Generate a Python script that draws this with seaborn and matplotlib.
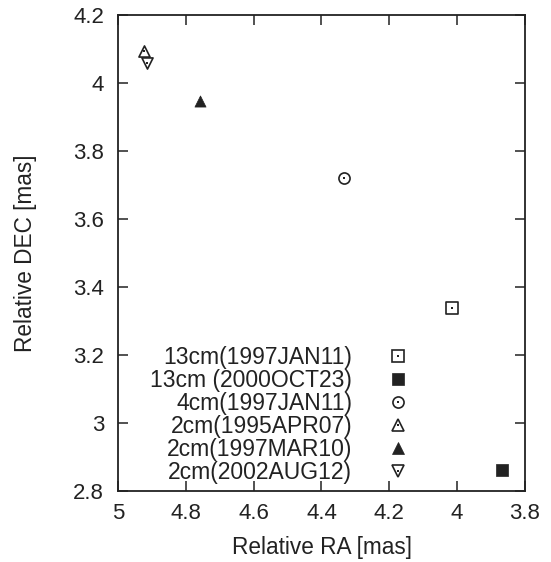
import matplotlib
matplotlib.use("Agg")
import matplotlib.pyplot as plt
from matplotlib.lines import Line2D
from matplotlib.legend_handler import HandlerTuple
import seaborn as sns
import pandas as pd

# ---- data ----
labels = ["13cm(1997JAN11)", "13cm (2000OCT23)", "4cm(1997JAN11)",
          "2cm(1995APR07)", "2cm(1997MAR10)", "2cm(2002AUG12)"]
ra = [4.016, 3.868, 4.335, 4.923, 4.757, 4.915]
dec = [3.337, 2.861, 3.721, 4.094, 3.947, 4.059]
markers = ["s", "s", "o", "^", "^", "v"]
filled = [False, True, False, False, True, False]

xticks = [5, 4.8, 4.6, 4.4, 4.2, 4, 3.8]
xticklabels = ["5", "4.8", "4.6", "4.4", "4.2", "4", "3.8"]
yticks = [2.8, 3, 3.2, 3.4, 3.6, 3.8, 4, 4.2]
yticklabels = ["2.8", "3", "3.2", "3.4", "3.6", "3.8", "4", "4.2"]

df = pd.DataFrame({"label": labels, "ra": ra, "dec": dec})

sns.set_style("ticks")
plt.rcParams["font.family"] = ["Liberation Sans", "DejaVu Sans"]
ink = "#222222"
plt.rcParams["text.color"] = ink
plt.rcParams["axes.labelcolor"] = ink
plt.rcParams["xtick.color"] = ink
plt.rcParams["ytick.color"] = ink

fig = plt.figure(figsize=(5.51, 5.62), dpi=100)
ax = fig.add_axes([118/551, 1 - 491/562, (525-118)/551, (491-15)/562])

msize = 8.0
handles = []
for i, row in df.iterrows():
    m = markers[i]
    if filled[i]:
        sns.scatterplot(x=[row.ra], y=[row.dec], marker=m, s=msize**2,
                        color=ink, edgecolor=ink, linewidth=0.5, ax=ax, zorder=3)
        h = Line2D([], [], linestyle="none", marker=m, markersize=msize,
                   markerfacecolor=ink, markeredgecolor=ink, markeredgewidth=0.5)
    else:
        sns.scatterplot(x=[row.ra], y=[row.dec], marker=m, s=msize**2,
                        facecolor="white", edgecolor=ink, linewidth=1.2, ax=ax, zorder=3)
        sns.scatterplot(x=[row.ra], y=[row.dec], marker="s", s=1.6**2,
                        color=ink, edgecolor=ink, linewidth=0, ax=ax, zorder=4)
        h1 = Line2D([], [], linestyle="none", marker=m, markersize=msize,
                    markerfacecolor="white", markeredgecolor=ink, markeredgewidth=1.2)
        h2 = Line2D([], [], linestyle="none", marker="s", markersize=1.6,
                    markerfacecolor=ink, markeredgecolor=ink, markeredgewidth=0)
        h = (h1, h2)
    handles.append(h)

ax.set_xlim(5, 3.8)
ax.set_ylim(2.8, 4.2)
ax.set_xticks(xticks)
ax.set_xticklabels(xticklabels)
ax.set_yticks(yticks)
ax.set_yticklabels(yticklabels)

fs = 16
ax.tick_params(axis="both", which="both", direction="in", length=7, width=1.1,
               top=True, right=True, labelsize=fs)
ax.tick_params(axis="x", pad=8.5)
ax.tick_params(axis="y", pad=10)
for sp in ax.spines.values():
    sp.set_linewidth(1.3)
    sp.set_color(ink)

ax.set_xlabel("Relative RA [mas]", fontsize=16.3, labelpad=9)
ax.set_ylabel("Relative DEC [mas]", fontsize=16.3, labelpad=26)

leg = ax.legend(handles, labels, loc="lower right",
                bbox_to_anchor=((421-118)/407, 0.015), bbox_transform=ax.transAxes,
                frameon=False, markerfirst=False, fontsize=16.5,
                handletextpad=1.0, handlelength=2.0, labelspacing=0.0,
                borderpad=0, borderaxespad=0,
                handler_map={tuple: HandlerTuple(ndivide=1)})
for t in leg.get_texts():
    t.set_color(ink)

fig.savefig("out.png", dpi=100)
